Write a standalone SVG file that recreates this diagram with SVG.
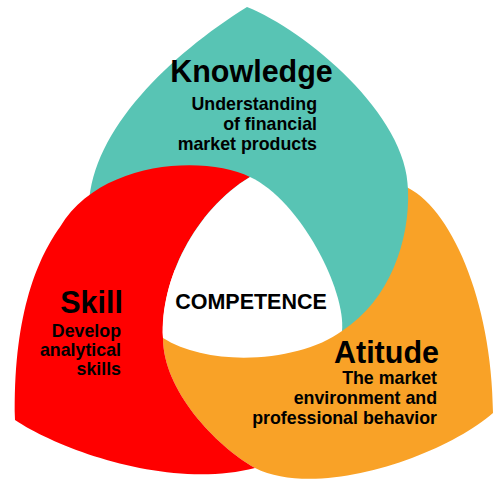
<svg xmlns="http://www.w3.org/2000/svg" width="500" height="500" viewBox="0 0 500 500">
<style>
.t{font-family:"Liberation Sans",Arial,sans-serif;font-weight:bold;fill:#000}
.h{font-size:30.5px}
.s{font-size:17.8px}
.c{font-size:21.5px}
</style>
<rect width="500" height="500" fill="#fff"/>
<g id="attitude">
<path fill="#F9A227" d="M163,338 L250,300 L340,320 L388,240 L404,186 C450,205 492,300 493,413 C445,455 320,500 255,468 C215,445 163,390 163,338 Z"/>
</g>
<g id="knowledge">
<path fill="#58C4B4" d="M247,7 C305,30 408,115 408,190 C410,240 390,300 342,331 L250,300 L150,260 L95,230 L89,205 C92,130 170,55 247,7 Z"/>
</g>
<g id="skill">
<path fill="#FF0000" d="M250,177 C205,155 100,160 60,227 C35,262 13,320 15,420 C60,450 170,490 255,468 C215,445 163,390 163,338 C160,280 195,210 250,177 Z"/>
</g>
<g id="competence">
<path fill="#fff" d="M250,177 C300,200 346,290 342,331 C300,362 210,368 163,338 C160,280 195,210 250,177 Z"/>
<text class="t c" x="251" y="309" text-anchor="middle">COMPETENCE</text>
</g>
<g id="knowledge-text">
<text class="t h" x="251.5" y="82" text-anchor="middle">Knowledge</text>
<text class="t s" text-anchor="end"><tspan x="317" y="110">Understanding</tspan><tspan x="317" y="130">of financial</tspan><tspan x="317" y="150">market products</tspan></text>
</g>
<g id="skill-text">
<text class="t h" x="123" y="313" text-anchor="end">Skill</text>
<text class="t s" text-anchor="end"><tspan x="121" y="337">Develop</tspan><tspan x="121" y="356">analytical</tspan><tspan x="121" y="375">skills</tspan></text>
</g>
<g id="attitude-text">
<text class="t h" x="439" y="363" text-anchor="end">Atitude</text>
<text class="t s" text-anchor="end"><tspan x="437" y="384">The market</tspan><tspan x="437" y="404">environment and</tspan><tspan x="437" y="424">professional behavior</tspan></text>
</g>
<g id="connectors"/>
</svg>
